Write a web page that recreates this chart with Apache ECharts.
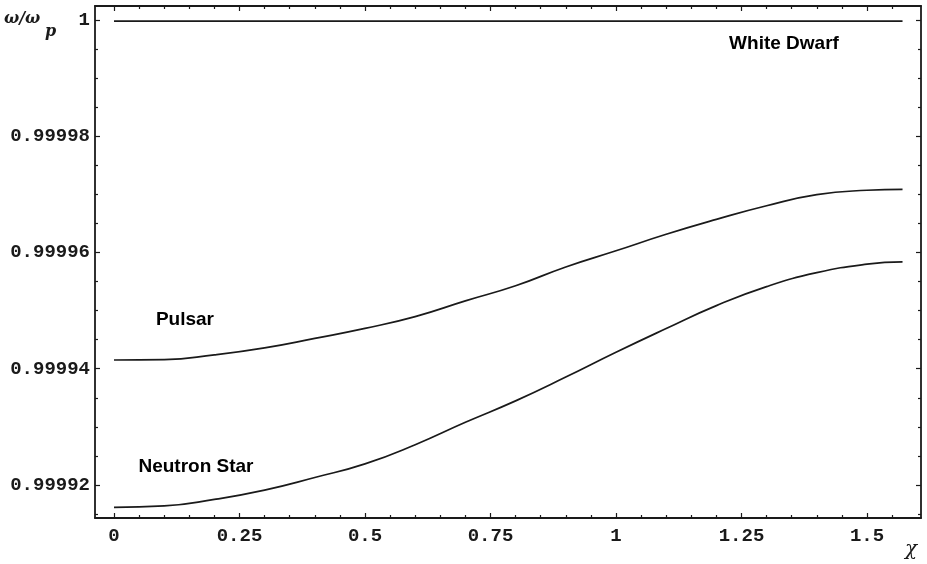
<!DOCTYPE html>
<html>
<head>
<meta charset="utf-8">
<script src="https://cdn.jsdelivr.net/npm/echarts@6/dist/echarts.min.js"></script>
<style>html,body{margin:0;padding:0;background:#fff}#c{width:927px;height:564px}</style>
</head>
<body>
<div id="c"></div>
<script>
// ---- data ----
const chi = [0, 0.1, 0.2, 0.3, 0.4, 0.5, 0.6, 0.7, 0.8, 0.9, 1.0, 1.1, 1.2, 1.3, 1.4, 1.5, 1.5708];
const whiteDwarf = [0.9999998, 0.9999998, 0.9999998, 0.9999998, 0.9999998, 0.9999998, 0.9999998, 0.9999998, 0.9999998, 0.9999998, 0.9999998, 0.9999998, 0.9999998, 0.9999998, 0.9999998, 0.9999998, 0.9999998];
const pulsar = [0.9999415, 0.99994156, 0.99994238, 0.99994359, 0.99994522, 0.99994694, 0.99994897, 0.99995167, 0.99995427, 0.99995751, 0.99996029, 0.99996313, 0.99996569, 0.99996803, 0.99996994, 0.9999707, 0.99997087];
const neutronStar = [0.99991616, 0.99991639, 0.99991751, 0.99991912, 0.99992129, 0.99992363, 0.99992693, 0.99993079, 0.99993447, 0.99993856, 0.99994283, 0.99994691, 0.99995086, 0.99995412, 0.99995652, 0.99995799, 0.99995837];

const xTickValues = [0, 0.25, 0.5, 0.75, 1, 1.25, 1.5];
const xTickLabels = ['0', '0.25', '0.5', '0.75', '1', '1.25', '1.5'];
const xMinorValues = [0.05,0.1,0.15,0.2,0.3,0.35,0.4,0.45,0.55,0.6,0.65,0.7,0.8,0.85,0.9,0.95,1.05,1.1,1.15,1.2,1.3,1.35,1.4,1.45,1.55];
const yTickValues = [0.99992, 0.99994, 0.99996, 0.99998, 1];
const yTickLabels = ['0.99992', '0.99994', '0.99996', '0.99998', '1'];
const yMinorValues = [0.999915,0.999925,0.99993,0.999935,0.999945,0.99995,0.999955,0.999965,0.99997,0.999975,0.999985,0.99999,0.999995];

const curveLabels = [
  [1.3347, 0.99999596, 'White Dwarf'],
  [0.1414, 0.99994839, 'Pulsar'],
  [0.1633, 0.9999231, 'Neutron Star']
];

const X_MIN = -0.0378, X_MAX = 1.6076;
const Y_MIN = 0.99991432, Y_MAX = 1.0000024;

// ---- chart ----
const ink = '#1a1a1a';
const monoLabel = {fontFamily: 'Liberation Mono', fontWeight: 'bold', fontSize: 19, color: ink};

function lookup(vals, labels) {
  return function (v) {
    let best = 0;
    for (let i = 1; i < vals.length; i++) if (Math.abs(vals[i] - v) < Math.abs(vals[best] - v)) best = i;
    return labels[best];
  };
}

function xAx(pos, values, len, showLine, showLabel) {
  return {
    type: 'value', position: pos, min: X_MIN, max: X_MAX,
    axisLine: {show: showLine, onZero: false, lineStyle: {color: ink, width: 1.8}},
    axisTick: {show: true, inside: true, length: len, customValues: values, lineStyle: {color: ink, width: 1.2}},
    axisLabel: showLabel ? Object.assign({show: true, margin: 9, customValues: values, formatter: lookup(xTickValues, xTickLabels)}, monoLabel) : {show: false},
    splitLine: {show: false}
  };
}
function yAx(pos, values, len, showLine, showLabel) {
  return {
    type: 'value', position: pos, min: Y_MIN, max: Y_MAX, scale: true,
    axisLine: {show: showLine, onZero: false, lineStyle: {color: ink, width: 1.8}},
    axisTick: {show: true, inside: true, length: len, customValues: values, lineStyle: {color: ink, width: 1.2}},
    axisLabel: showLabel ? Object.assign({show: true, margin: 5, customValues: values, formatter: lookup(yTickValues, yTickLabels)}, monoLabel) : {show: false},
    splitLine: {show: false}
  };
}

function pairs(xs, ys) { return xs.map((x, i) => [x, ys[i]]); }

const lineStyle = {color: ink, width: 1.7};
const chart = echarts.init(document.getElementById('c'));
chart.setOption({
  animation: false,
  backgroundColor: '#fff',
  grid: {left: 95, right: 6, top: 6, bottom: 46, containLabel: false},
  xAxis: [
    xAx('bottom', xTickValues, 5, true, true),
    xAx('bottom', xMinorValues, 3, false, false),
    xAx('top', xTickValues, 5, true, false),
    xAx('top', xMinorValues, 3, false, false)
  ],
  yAxis: [
    yAx('left', yTickValues, 5, true, true),
    yAx('left', yMinorValues, 3, false, false),
    yAx('right', yTickValues, 5, true, false),
    yAx('right', yMinorValues, 3, false, false)
  ],
  series: [
    {name: 'White Dwarf', type: 'line', data: pairs(chi, whiteDwarf), showSymbol: false, smooth: true, lineStyle: lineStyle},
    {name: 'Pulsar', type: 'line', data: pairs(chi, pulsar), showSymbol: false, smooth: true, lineStyle: lineStyle},
    {name: 'Neutron Star', type: 'line', data: pairs(chi, neutronStar), showSymbol: false, smooth: true, lineStyle: lineStyle},
    {
      type: 'scatter', data: curveLabels, symbolSize: 1, itemStyle: {color: 'rgba(0,0,0,0)'}, z: 10,
      label: {show: true, position: 'inside', formatter: p => p.data[2], fontFamily: 'Liberation Sans', fontWeight: 'bold', fontSize: 19, color: '#000', textBorderWidth: 0, opacity: 1},
      silent: true
    }
  ],
  graphic: [
    {type: 'text', left: 4, top: 11, style: {text: 'ω/ω', fontFamily: 'DejaVu Serif', fontStyle: 'italic', fontWeight: 'bold', fontSize: 16, fill: ink}},
    {type: 'text', left: 45, top: 24, style: {text: 'p', fontFamily: 'DejaVu Serif', fontStyle: 'italic', fontWeight: 'bold', fontSize: 16, fill: ink}},
    {type: 'text', left: 905, top: 540, style: {text: 'χ', fontFamily: 'DejaVu Serif', fontStyle: 'italic', fontSize: 20, fill: ink}}
  ]
});
</script>
</body>
</html>
